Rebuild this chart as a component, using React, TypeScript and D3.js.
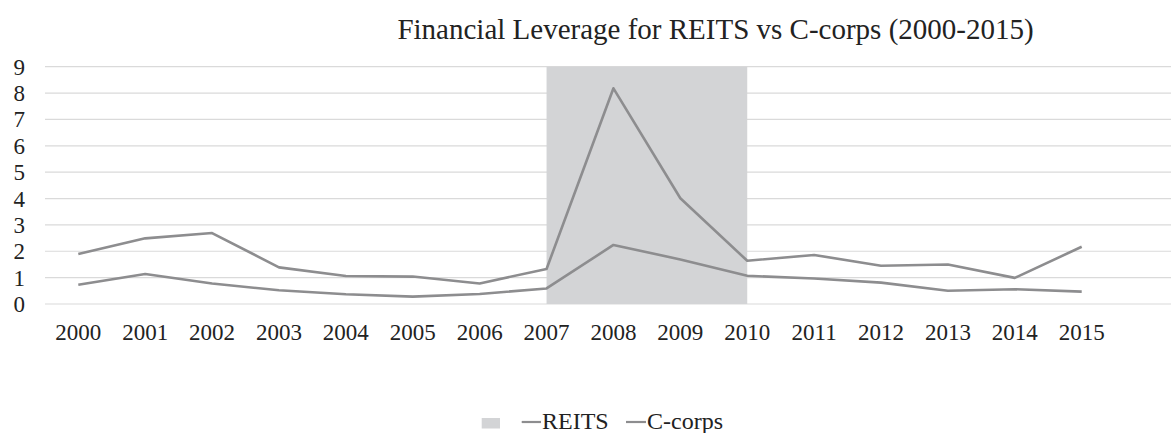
import React from "react";
import * as d3 from "d3";

const years = ["2000","2001","2002","2003","2004","2005","2006","2007","2008","2009","2010","2011","2012","2013","2014","2015"];
const reits = [1.9, 2.49, 2.69, 1.39, 1.06, 1.04, 0.78, 1.33, 8.18, 4.01, 1.64, 1.86, 1.45, 1.5, 0.99, 2.17];
const ccorps = [0.73, 1.14, 0.78, 0.52, 0.37, 0.28, 0.38, 0.59, 2.24, 1.69, 1.07, 0.97, 0.81, 0.5, 0.56, 0.47];
const yTicks = [0, 1, 2, 3, 4, 5, 6, 7, 8, 9];
const shadeRange = ["2007", "2010"];
const title = "Financial Leverage for REITS vs C-corps (2000-2015)";
const legendLabels = ["REITS", "C-corps"];

const W = 1171, H = 433;
const FONT = "Liberation Serif, DejaVu Serif, serif";
const LINE = "#8d8d8f";

export default function App() {
  const x = d3.scalePoint<string>().domain(years).range([78.3, 1081.7]);
  const y = d3.scaleLinear().domain([0, 9]).range([304, 66.7]);
  const line = d3.line<number>().x((_, i) => x(years[i])!).y((d) => y(d));
  const sx0 = x(shadeRange[0])!, sx1 = x(shadeRange[1])!;
  return (
    <svg width={W} height={H} style={{ position: "absolute", left: 0, top: 0, background: "#fff", fontFamily: FONT }}>
      <text x={715.5} y={38.5} textAnchor="middle" fontSize={29} fill="#222">{title}</text>
      {yTicks.map((t) => (
        <g key={t}>
          <line x1={45} x2={W} y1={y(t)} y2={y(t)} stroke="#dadada" strokeWidth={1.2} />
          <text x={25} y={y(t)} dy="0.35em" textAnchor="end" fontSize={23} fill="#222">{t}</text>
        </g>
      ))}
      <rect x={sx0} y={y(9)} width={sx1 - sx0} height={y(0) - y(9)} fill="#d3d4d6" />
      <path d={line(reits) || ""} fill="none" stroke={LINE} strokeWidth={2.6} strokeLinejoin="round" />
      <path d={line(ccorps) || ""} fill="none" stroke={LINE} strokeWidth={2.6} strokeLinejoin="round" />
      {years.map((yr) => (
        <text key={yr} x={x(yr)!} y={340} textAnchor="middle" fontSize={23} fill="#222">{yr}</text>
      ))}
      <g>
        <rect x={481.7} y={418} width={18.3} height={10.5} fill="#d3d4d6" />
        <line x1={521.7} x2={541} y1={422} y2={422} stroke={LINE} strokeWidth={2.2} />
        <text x={542} y={429} fontSize={24} fill="#222">{legendLabels[0]}</text>
        <line x1={626} x2={646} y1={422} y2={422} stroke={LINE} strokeWidth={2.2} />
        <text x={647} y={429} fontSize={24} fill="#222">{legendLabels[1]}</text>
      </g>
    </svg>
  );
}
